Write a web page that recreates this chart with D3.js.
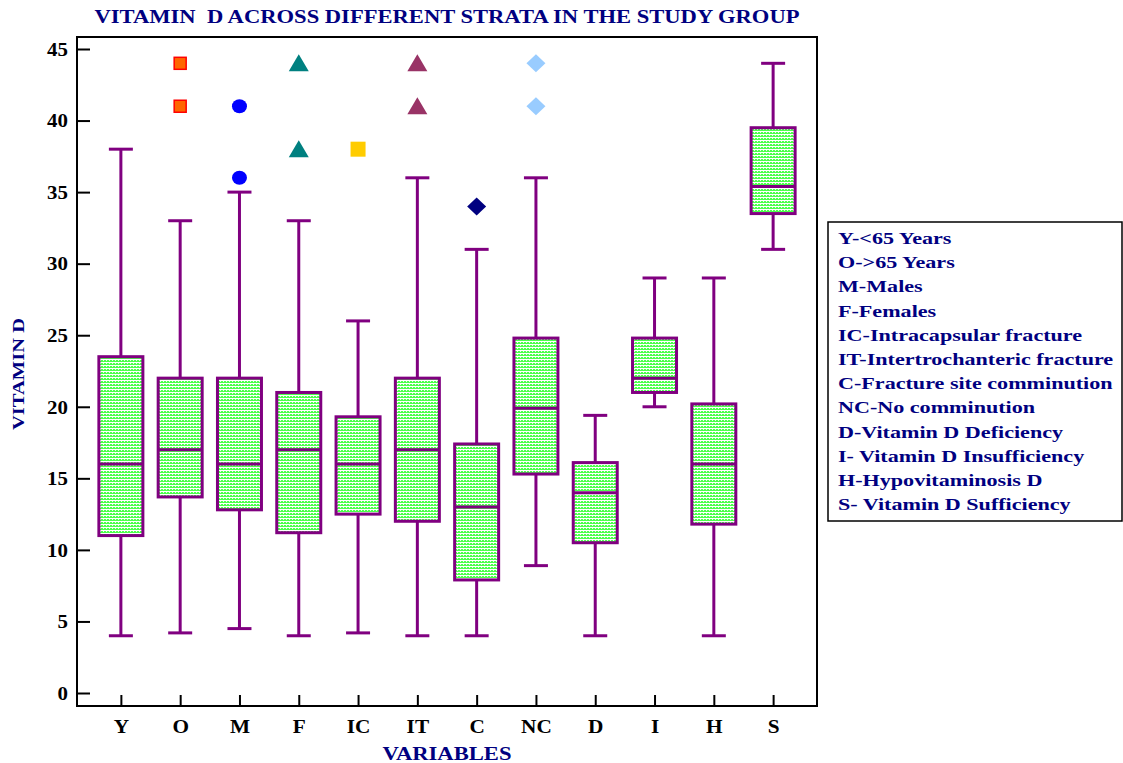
<!DOCTYPE html>
<html><head><meta charset="utf-8">
<script src="https://cdn.jsdelivr.net/npm/d3@7/dist/d3.min.js"></script>
<style>body{margin:0;background:#fff}svg{display:block}</style>
</head><body>
<svg id="c" width="1123" height="763"></svg>
<script>
const categories = ["Y","O","M","F","IC","IT","C","NC","D","I","H","S"];
const whiskerLow  = [4, 4.2, 4.5, 4, 4.2, 4, 4, 8.9, 4, 20, 4, 31];
const q1          = [11, 13.7, 12.8, 11.2, 12.5, 12, 7.9, 15.3, 10.5, 21, 11.8, 33.5];
const medians     = [16, 17, 16, 17, 16, 17, 13, 19.9, 14, 22, 16, 35.4];
const q3          = [23.5, 22, 22, 21, 19.3, 22, 17.4, 24.8, 16.1, 24.8, 20.2, 39.5];
const whiskerHigh = [38, 33, 35, 33, 26, 36, 31, 36, 19.4, 29, 29, 44];
const outlierCats   = ["O","O","M","M","F","F","IC","IT","IT","C","NC","NC"];
const outlierValues = [44, 41, 41, 36, 44, 38, 38, 44, 41, 34, 44, 41];
const yTicks = [0,5,10,15,20,25,30,35,40,45];
const legendItems = ["Y-<65 Years","O->65 Years","M-Males","F-Females","IC-Intracapsular fracture","IT-Intertrochanteric fracture","C-Fracture site comminution","NC-No comminution","D-Vitamin D Deficiency","I- Vitamin D Insufficiency","H-Hypovitaminosis D","S- Vitamin D Sufficiency"];

const markerStyle = {
  O:{type:"square",fill:"#FF6600",stroke:"#FF0000",size:14},
  M:{type:"circle",fill:"#0000FF",stroke:"none",size:15},
  F:{type:"triangle",fill:"#008080",stroke:"none",size:20},
  IC:{type:"square",fill:"#FFCC00",stroke:"none",size:15},
  IT:{type:"triangle",fill:"#993366",stroke:"none",size:20},
  C:{type:"diamond",fill:"#000080",stroke:"none",size:19},
  NC:{type:"diamond",fill:"#99CCFF",stroke:"none",size:19}
};

const svg = d3.select("#c");
const navy = "#000080", purple = "#800080";
const serif = "'Liberation Serif','Times New Roman',serif";
const L=77, R=817, T=37, B=706;
const x = d3.scalePoint().domain(categories).range([L,R]).padding(0.74);
const y = d3.scaleLinear().domain([0,45]).range([693,49]);

function widen(sel, f){ sel.each(function(){ const w=this.getComputedTextLength(); d3.select(this).attr("textLength",w*f).attr("lengthAdjust","spacingAndGlyphs"); }); }

const defs = svg.append("defs");
const pat = defs.append("pattern").attr("id","dots").attr("patternUnits","userSpaceOnUse").attr("width",3).attr("height",3);
pat.append("rect").attr("width",3).attr("height",3).attr("fill","#ffffff");
pat.append("rect").attr("width",3).attr("height",2).attr("fill","#4cff4c");
pat.append("rect").attr("x",1).attr("width",1).attr("height",1).attr("fill","#e6ffe6");

// frame
svg.append("rect").attr("x",L).attr("y",T).attr("width",R-L).attr("height",B-T)
  .attr("fill","none").attr("stroke","#000").attr("stroke-width",2);

// y axis
const yAxis = d3.axisLeft(y).tickValues(yTicks).tickSize(-13).tickPadding(24);
const gy = svg.append("g").attr("transform",`translate(${L},0)`).call(yAxis);
gy.select(".domain").remove();
gy.selectAll(".tick line").attr("stroke","#000").attr("stroke-width",2);
gy.selectAll(".tick text").attr("font-family",serif).attr("font-weight","bold").attr("font-size",19).attr("fill","#000").attr("x",-9).attr("dy","0.33em");
widen(gy.selectAll(".tick text"),1.1);

// x axis
const xAxis = d3.axisBottom(x).tickSize(-11).tickPadding(20);
const gx = svg.append("g").attr("transform",`translate(0,${B})`).call(xAxis);
gx.select(".domain").remove();
gx.selectAll(".tick line").attr("stroke","#000").attr("stroke-width",2);
gx.selectAll(".tick text").attr("font-family",serif).attr("font-weight","bold").attr("font-size",19).attr("fill","#000").attr("y",14).attr("dy","0.71em");
widen(gx.selectAll(".tick text"),1.12);

// boxes
const data = categories.map((c,i)=>({c,lo:whiskerLow[i],q1:q1[i],med:medians[i],q3:q3[i],hi:whiskerHigh[i]}));
const bw = 44, cw = 24;
const g = svg.append("g");
const bx = g.selectAll("g.box").data(data).join("g").attr("class","box");
bx.append("line").attr("x1",d=>x(d.c)).attr("x2",d=>x(d.c)).attr("y1",d=>y(d.hi)).attr("y2",d=>y(d.q3)).attr("stroke",purple).attr("stroke-width",3);
bx.append("line").attr("x1",d=>x(d.c)).attr("x2",d=>x(d.c)).attr("y1",d=>y(d.q1)).attr("y2",d=>y(d.lo)).attr("stroke",purple).attr("stroke-width",3);
bx.append("line").attr("x1",d=>x(d.c)-cw/2).attr("x2",d=>x(d.c)+cw/2).attr("y1",d=>y(d.hi)).attr("y2",d=>y(d.hi)).attr("stroke",purple).attr("stroke-width",3);
bx.append("line").attr("x1",d=>x(d.c)-cw/2).attr("x2",d=>x(d.c)+cw/2).attr("y1",d=>y(d.lo)).attr("y2",d=>y(d.lo)).attr("stroke",purple).attr("stroke-width",3);
bx.append("rect").attr("x",d=>x(d.c)-bw/2).attr("width",bw).attr("y",d=>y(d.q3)).attr("height",d=>y(d.q1)-y(d.q3))
  .attr("fill","url(#dots)").attr("stroke",purple).attr("stroke-width",3);
bx.append("line").attr("x1",d=>x(d.c)-bw/2).attr("x2",d=>x(d.c)+bw/2).attr("y1",d=>y(d.med)).attr("y2",d=>y(d.med)).attr("stroke",purple).attr("stroke-width",3);

// outliers
const outs = outlierCats.map((c,i)=>({c,v:outlierValues[i]}));
outs.forEach(o=>{
  const s = markerStyle[o.c], cx = x(o.c), cy = y(o.v), h = s.size/2;
  let el;
  if(s.type==="square") el = svg.append("rect").attr("x",cx-h+(s.stroke!=="none"?1:0)).attr("y",cy-h+(s.stroke!=="none"?1:0)).attr("width",s.size-(s.stroke!=="none"?2:0)).attr("height",s.size-(s.stroke!=="none"?2:0));
  else if(s.type==="circle") el = svg.append("ellipse").attr("cx",cx).attr("cy",cy).attr("rx",h).attr("ry",h-0.5);
  else if(s.type==="triangle") el = svg.append("path").attr("d",`M${cx},${cy-9}L${cx+10},${cy+8}L${cx-10},${cy+8}Z`);
  else el = svg.append("path").attr("d",`M${cx},${cy-9}L${cx+9.5},${cy}L${cx},${cy+9}L${cx-9.5},${cy}Z`);
  el.attr("fill",s.fill).attr("stroke",s.stroke).attr("stroke-width",s.stroke!=="none"?1.5:0);
});

// title & labels
svg.append("text").attr("x",447).attr("y",23).attr("text-anchor","middle").attr("font-family",serif).attr("font-weight","bold").attr("font-size",18).attr("fill",navy)
  .attr("xml:space","preserve").attr("textLength",705).attr("lengthAdjust","spacingAndGlyphs").text("VITAMIN  D ACROSS DIFFERENT STRATA IN THE STUDY GROUP");
svg.append("text").attr("x",447).attr("y",760).attr("text-anchor","middle").attr("font-family",serif).attr("font-weight","bold").attr("font-size",18).attr("fill",navy)
  .attr("textLength",129).attr("lengthAdjust","spacingAndGlyphs").text("VARIABLES");
svg.append("text").attr("transform","translate(24,374) rotate(-90)").attr("text-anchor","middle").attr("font-family",serif).attr("font-weight","bold").attr("font-size",16).attr("fill",navy)
  .attr("textLength",112).attr("lengthAdjust","spacingAndGlyphs").text("VITAMIN D");

// legend
svg.append("rect").attr("x",828).attr("y",222).attr("width",294).attr("height",299).attr("fill","#fff").attr("stroke","#000").attr("stroke-width",1.5);
const lt = svg.append("g").selectAll("text").data(legendItems).join("text")
  .attr("x",838).attr("y",(d,i)=>244+i*24.2).attr("font-family",serif).attr("font-weight","bold").attr("font-size",17).attr("fill",navy).text(d=>d);
widen(lt,1.3);
</script>
</body></html>
